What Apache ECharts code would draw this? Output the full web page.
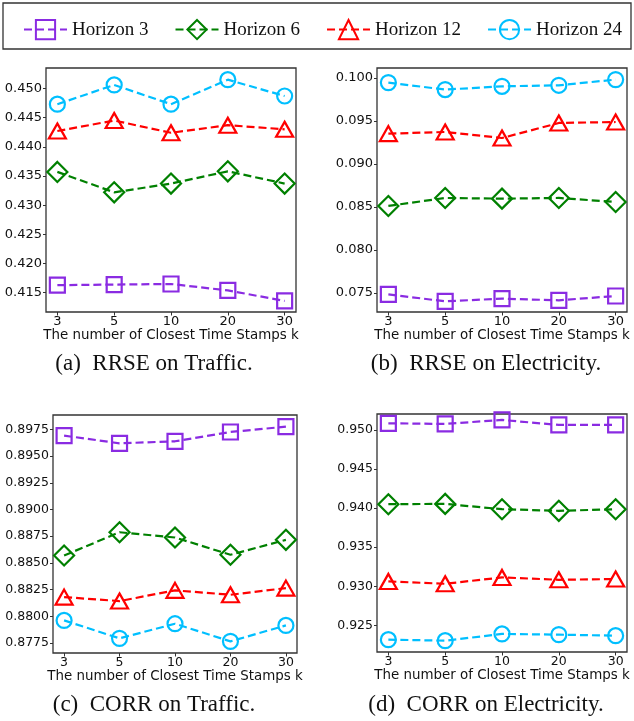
<!DOCTYPE html>
<html>
<head>
<meta charset="utf-8">
<script src="https://cdn.jsdelivr.net/npm/echarts@6/dist/echarts.min.js"></script>
<style>
  html, body { margin: 0; padding: 0; background: #fff; }
  #chart { width: 634px; height: 721px; }
</style>
</head>
<body>
<div id="chart"></div>
<script>
// x categories (closest time stamps k)
const kLabels = ['3', '5', '10', '20', '30'];
const horizonNames = ['Horizon 3', 'Horizon 6', 'Horizon 12', 'Horizon 24'];

// (a) RRSE on Traffic
const rrseTrafficH3 = [0.4163, 0.4164, 0.4165, 0.4154, 0.4136];
const rrseTrafficH6 = [0.4357, 0.4322, 0.4337, 0.4358, 0.4337];
const rrseTrafficH12 = [0.4427, 0.4445, 0.4424, 0.4437, 0.4430];
const rrseTrafficH24 = [0.4473, 0.4506, 0.4473, 0.4515, 0.4487];
const rrseTrafficTicks = [0.415, 0.420, 0.425, 0.430, 0.435, 0.440, 0.445, 0.450];

// (b) RRSE on Electricity
const rrseElecH3 = [0.07484, 0.07403, 0.07434, 0.07415, 0.07465];
const rrseElecH6 = [0.08512, 0.08605, 0.08597, 0.08605, 0.08558];
const rrseElecH12 = [0.09353, 0.09372, 0.09302, 0.09477, 0.09488];
const rrseElecH24 = [0.09946, 0.09865, 0.09903, 0.09915, 0.09981];
const rrseElecTicks = [0.075, 0.080, 0.085, 0.090, 0.095, 0.100];

// (c) CORR on Traffic
const corrTrafficH3 = [0.89691, 0.89619, 0.89638, 0.89725, 0.89775];
const corrTrafficH6 = [0.88569, 0.88787, 0.88738, 0.88576, 0.88716];
const corrTrafficH12 = [0.88180, 0.88143, 0.88243, 0.88202, 0.88264];
const corrTrafficH24 = [0.87962, 0.87794, 0.87931, 0.87766, 0.87915];
const corrTrafficTicks = [0.8775, 0.8800, 0.8825, 0.8850, 0.8875, 0.8900, 0.8925, 0.8950, 0.8975];

// (d) CORR on Electricity
const corrElecH3 = [0.95085, 0.95077, 0.95128, 0.95064, 0.95064];
const corrElecH6 = [0.94050, 0.94054, 0.93986, 0.93965, 0.93986];
const corrElecH12 = [0.93062, 0.93032, 0.93113, 0.93083, 0.93092];
const corrElecH24 = [0.92317, 0.92304, 0.92390, 0.92381, 0.92368];
const corrElecTicks = [0.925, 0.930, 0.935, 0.940, 0.945, 0.950];

const colors = ['#8a2be2', '#008000', '#ff0000', '#00bfff'];
const symbols = ['rect', 'diamond', 'triangle', 'circle'];
const symbolSizes = [15, 20, [17, 15], 15];

const panels = [
  { grid: { left: 46, top: 68, width: 250, height: 244 }, min: 0.4117, max: 0.4535,
    ticks: rrseTrafficTicks, digits: 3, fs: 13,
    values: [rrseTrafficH3, rrseTrafficH6, rrseTrafficH12, rrseTrafficH24],
    caption: '(a)  RRSE on Traffic.', capX: 154, capY: 364 },
  { grid: { left: 377, top: 68, width: 250, height: 244 }, min: 0.07279, max: 0.10116,
    ticks: rrseElecTicks, digits: 3, fs: 13,
    values: [rrseElecH3, rrseElecH6, rrseElecH12, rrseElecH24],
    caption: '(b)  RRSE on Electricity.', capX: 486, capY: 364 },
  { grid: { left: 53, top: 415, width: 244, height: 238 }, min: 0.87657, max: 0.89884,
    ticks: corrTrafficTicks, digits: 4, fs: 12.5,
    values: [corrTrafficH3, corrTrafficH6, corrTrafficH12, corrTrafficH24],
    caption: '(c)  CORR on Traffic.', capX: 154, capY: 705 },
  { grid: { left: 377, top: 414, width: 250, height: 238 }, min: 0.92159, max: 0.95204,
    ticks: corrElecTicks, digits: 3, fs: 12.5,
    values: [corrElecH3, corrElecH6, corrElecH12, corrElecH24],
    caption: '(d)  CORR on Electricity.', capX: 486, capY: 705 },
];

const tickIdx = kLabels.map((_, i) => i);
const grids = [], xAxes = [], yAxes = [], series = [], graphics = [];

panels.forEach((p, pi) => {
  grids.push(Object.assign({ show: true, borderColor: '#333', borderWidth: 1.3, backgroundColor: 'transparent' }, p.grid));
  xAxes.push({
    type: 'value', gridIndex: pi, min: -0.2, max: 4.2,
    name: 'The number of Closest Time Stamps k', nameLocation: 'middle', nameGap: 13,
    nameTextStyle: { fontFamily: 'DejaVu Sans', fontSize: 13.4, color: '#111' },
    axisLine: { show: false, onZero: false },
    axisTick: { show: true, length: 3.5, customValues: tickIdx, lineStyle: { color: '#333' } },
    axisLabel: { customValues: tickIdx, margin: 3, fontFamily: 'DejaVu Sans', fontSize: p.fs, color: '#111',
      formatter: v => kLabels[Math.round(v)] },
    splitLine: { show: false },
  });
  yAxes.push({
    type: 'value', gridIndex: pi, min: p.min, max: p.max,
    axisLine: { show: false, onZero: false },
    axisTick: { show: true, length: 3, customValues: p.ticks, lineStyle: { color: '#333' } },
    axisLabel: { customValues: p.ticks, margin: 4, fontFamily: 'DejaVu Sans', fontSize: p.fs, color: '#111',
      formatter: v => v.toFixed(p.digits) },
    splitLine: { show: false },
  });
  p.values.forEach((vals, si) => {
    series.push({
      type: 'line', name: horizonNames[si], xAxisIndex: pi, yAxisIndex: pi,
      data: vals.map((v, j) => [j, v]),
      symbol: symbols[si], symbolSize: symbolSizes[si], showAllSymbol: true,
      lineStyle: { color: colors[si], width: 2.2, type: [8, 4] },
      itemStyle: { color: 'rgba(255,255,255,0)', borderColor: colors[si], borderWidth: 2.2 },
      emphasis: { disabled: true },
      z: 2 + si,
    });
  });
  graphics.push({
    type: 'text', x: p.capX, y: p.capY,
    style: { text: p.caption, font: '23px "Liberation Serif"', fill: '#111', align: 'center', verticalAlign: 'middle' },
  });
});

// legend frame
graphics.push({
  type: 'rect', shape: { x: 3, y: 3, width: 628, height: 46 },
  style: { fill: 'none', stroke: '#333', lineWidth: 1.3 },
});

const chart = echarts.init(document.getElementById('chart'), null, { renderer: 'canvas' });
chart.setOption({
  animation: false,
  legend: {
    data: horizonNames, left: 18, top: 14, width: 610, itemWidth: 43, itemHeight: 24, itemGap: 26,
    textStyle: { fontFamily: 'Liberation Serif', fontSize: 19, color: '#111' },
  },
  grid: grids,
  xAxis: xAxes,
  yAxis: yAxes,
  series: series,
  graphic: graphics,
});
</script>
</body>
</html>
